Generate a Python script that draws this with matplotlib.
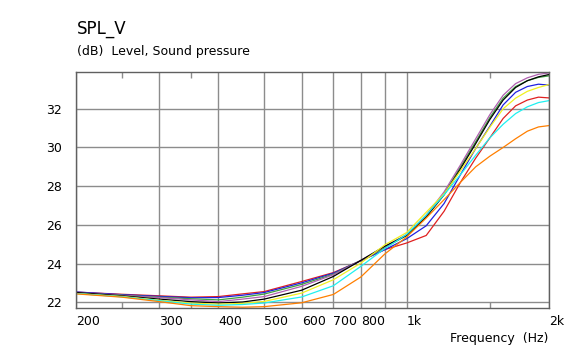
import matplotlib
matplotlib.use("Agg")
import matplotlib.pyplot as plt
from matplotlib.ticker import FixedLocator, NullFormatter

# frequency points (Hz)
freq = [200, 250, 300, 350, 400, 450, 500, 600, 700, 800, 900,
        1000, 1100, 1200, 1300, 1400, 1500, 1600, 1700, 1800, 1900, 2000]

# SPL curves (dB)
red = [22.52, 22.41, 22.33, 22.26, 22.29, 22.43, 22.55, 23.07, 23.53, 24.14, 24.72,
       25.06, 25.45, 26.7, 28.2, 29.45, 30.5, 31.5, 32.15, 32.45, 32.6, 32.56]
blue = [22.53, 22.39, 22.3, 22.23, 22.24, 22.36, 22.5, 23.0, 23.5, 24.15, 24.72,
        25.28, 25.95, 27.1, 28.6, 29.95, 31.1, 32.2, 32.85, 33.15, 33.27, 33.22]
green = [22.47, 22.36, 22.26, 22.18, 22.12, 22.26, 22.42, 22.92, 23.45, 24.15, 24.82,
         25.45, 26.45, 27.6, 29.0, 30.3, 31.55, 32.55, 33.15, 33.45, 33.62, 33.7]
purple = [22.5, 22.35, 22.24, 22.12, 22.03, 22.16, 22.29, 22.82, 23.42, 24.15, 24.88,
          25.5, 26.5, 27.7, 29.1, 30.45, 31.7, 32.7, 33.3, 33.6, 33.78, 33.85]
black = [22.5, 22.33, 22.16, 22.03, 21.96, 22.01, 22.16, 22.62, 23.33, 24.16, 24.9,
         25.45, 26.4, 27.55, 28.9, 30.2, 31.45, 32.45, 33.1, 33.45, 33.65, 33.77]
yellow = [22.45, 22.3, 22.1, 21.95, 21.9, 21.94, 22.04, 22.47, 23.16, 24.02, 24.97,
          25.6, 26.65, 27.6, 28.8, 29.95, 31.05, 32.0, 32.55, 32.9, 33.1, 33.25]
cyan = [22.45, 22.28, 22.08, 21.9, 21.84, 21.88, 21.96, 22.27, 22.85, 23.85, 24.78,
        25.5, 26.5, 27.55, 28.6, 29.6, 30.5, 31.2, 31.75, 32.1, 32.32, 32.42]
orange = [22.43, 22.26, 22.03, 21.82, 21.77, 21.74, 21.77, 21.97, 22.4, 23.3, 24.5,
          25.37, 26.35, 27.3, 28.2, 29.0, 29.55, 30.0, 30.45, 30.84, 31.06, 31.13]

curves = [red, blue, green, purple, black, yellow, cyan, orange]
colors = ['#e02020', '#2020e0', '#40a040', '#b060b0', '#000000',
          '#f0f020', '#20f0f0', '#ff7f00']

xticks = [200, 300, 400, 500, 600, 700, 800, 900, 1000, 2000]
xlabels = ['200', '300', '400', '500', '600', '700', '800', '', '1k', '2k']
yticks = [22, 24, 26, 28, 30, 32]

fig = plt.figure(figsize=(5.78, 3.51), dpi=100)
ax = fig.add_axes([76 / 578, 43 / 351, 473 / 578, 236 / 351])

for y, c in zip(curves, colors):
    ax.plot(freq, y, color=c, lw=0.9)

ax.set_xscale('log')
ax.set_xlim(200, 2000)
ax.set_ylim(21.7, 33.9)

ax.xaxis.set_major_locator(FixedLocator(xticks))
ax.set_xticklabels(xlabels)
ax.xaxis.set_minor_locator(FixedLocator([250, 350, 1500]))
ax.xaxis.set_minor_formatter(NullFormatter())
ax.set_yticks(yticks)

ax.grid(True, which='major', color='#8c8c8c', lw=1)
ax.tick_params(axis='both', which='major', length=0, labelsize=9, colors='#000000')
ax.tick_params(axis='x', which='major', pad=5)
ax.tick_params(axis='y', which='major', pad=10)
ax.tick_params(axis='x', which='minor', direction='in', length=4, top=True,
               color='#8c8c8c', width=1)
for lbl in ax.get_xticklabels():
    lbl.set_horizontalalignment('left')
for s in ax.spines.values():
    s.set_color('#606060')
    s.set_linewidth(1)

fig.text(77 / 578, 1 - 34 / 351, 'SPL_V', fontsize=12, va='baseline')
fig.text(77 / 578, 1 - 55 / 351, '(dB)  Level, Sound pressure', fontsize=9, va='baseline')
fig.text(548 / 578, 1 - 342 / 351, 'Frequency  (Hz)', fontsize=9, va='baseline', ha='right')

fig.savefig('out.png', dpi=100)
